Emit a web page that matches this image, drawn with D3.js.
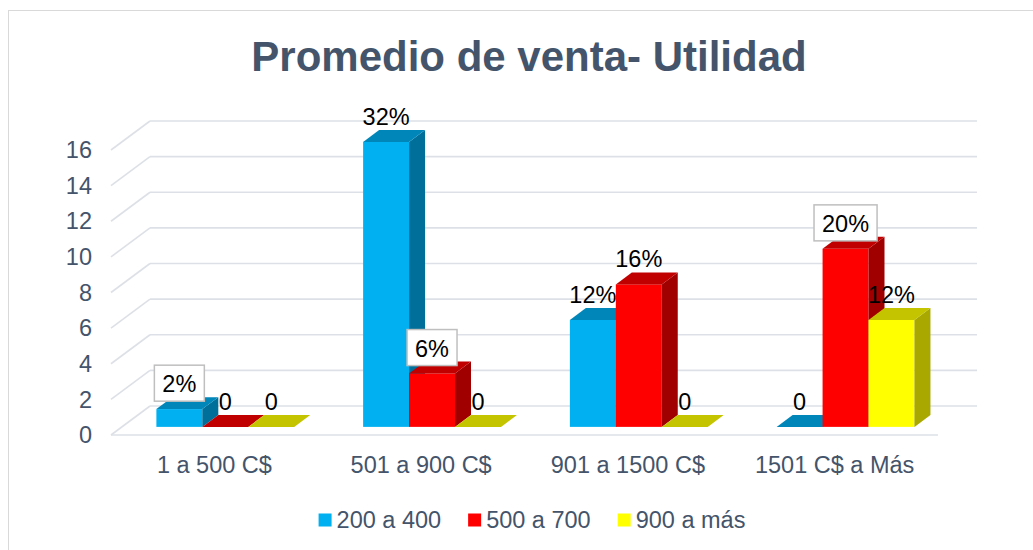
<!DOCTYPE html>
<html>
<head>
<meta charset="utf-8">
<script src="https://cdn.jsdelivr.net/npm/d3@7"></script>
<style>
  body { margin: 0; background: #fff; }
  text { font-family: "Liberation Sans", Arial, sans-serif; }
</style>
</head>
<body>
<script>
var categories = ["1 a 500 C$", "501 a 900 C$", "901 a 1500 C$", "1501 C$ a Más"]
var seriesNames = ["200 a 400", "500 a 700", "900 a más"]
var serie200 = [1, 16, 6, 0]
var serie500 = [0, 3, 8, 10]
var serie900 = [0, 0, 0, 6]
var labels200 = ["2%", "32%", "12%", "0"]
var labels500 = ["0", "6%", "16%", "20%"]
var labels900 = ["0", "0", "0", "12%"]
var boxedLabels = ["2%", "6%", "20%"]
var yTicks = [0, 2, 4, 6, 8, 10, 12, 14, 16]

var colors = [
  {front: "#00B0F0", top: "#0086B8", side: "#006F9A"},
  {front: "#FF0000", top: "#C00000", side: "#A00000"},
  {front: "#FFFF00", top: "#C4C400", side: "#A8A800"}
]

var width = 1033, height = 550
var x0 = 111, floorY = 435, plotW = 827
var depthX = 39, depthY = -29   // full depth of the floor
var f1 = 0.28, f2 = 0.69        // bar front / back depth fractions
var fs = 23.5

var svg = d3.select("body").append("svg")
    .attr("width", width)
    .attr("height", height)

svg.append("rect")
    .attr("x", 8.5).attr("y", 10.5)
    .attr("width", 1100).attr("height", 600)
    .attr("fill", "#fff")
    .attr("stroke", "#D9D9D9")

svg.append("text")
    .attr("x", 529).attr("y", 71)
    .attr("text-anchor", "middle")
    .attr("font-size", 42).attr("font-weight", "bold")
    .attr("fill", "#44546A")
    .text("Promedio de venta- Utilidad")

var y = d3.scaleLinear().domain([0, 16]).range([floorY, 150])

var x = d3.scaleBand().domain(categories).range([0, plotW])
    .paddingInner(1 / 3).paddingOuter(1 / 6)

var xs = d3.scaleBand().domain(d3.range(3)).range([0, x.bandwidth()])

// back wall gridlines with left side wall
var grid = svg.append("g")
    .attr("stroke", "#DDE1E7").attr("stroke-width", 1.6).attr("fill", "none")
yTicks.forEach(function(v) {
  grid.append("line")
      .attr("x1", x0 + depthX).attr("y1", y(v) + depthY)
      .attr("x2", x0 + depthX + plotW).attr("y2", y(v) + depthY)
  grid.append("line")
      .attr("x1", x0).attr("y1", y(v))
      .attr("x2", x0 + depthX).attr("y2", y(v) + depthY)
})
grid.append("line")
    .attr("x1", x0).attr("y1", floorY)
    .attr("x2", x0 + plotW).attr("y2", floorY)

// y tick labels
svg.append("g").selectAll("text")
    .data(yTicks)
  .enter().append("text")
    .attr("x", 92).attr("y", function(d) { return y(d); })
    .attr("dy", "0.35em")
    .attr("text-anchor", "end")
    .attr("font-size", fs).attr("fill", "#44546A")
    .text(function(d) { return d; })

// category labels
svg.append("g").selectAll("text")
    .data(categories)
  .enter().append("text")
    .attr("x", function(d) { return x0 + x(d) + x.bandwidth() / 2; })
    .attr("y", 465).attr("dy", "0.35em")
    .attr("text-anchor", "middle")
    .attr("font-size", fs).attr("fill", "#44546A")
    .text(function(d) { return d; })

var seriesValues = [serie200, serie500, serie900]
var seriesLabels = [labels200, labels500, labels900]

var bars = []
categories.forEach(function(c, ci) {
  seriesValues.forEach(function(vals, si) {
    bars.push({cat: c, s: si, v: vals[ci], label: seriesLabels[si][ci]})
  })
})

var ddx = depthX * (f2 - f1), ddy = depthY * (f2 - f1)

function pts(arr) { return arr.map(function(p) { return p.join(","); }).join(" "); }

var bar = svg.append("g").selectAll("g")
    .data(bars)
  .enter().append("g")

bar.each(function(d) {
  var g = d3.select(this)
  var left = x0 + depthX * f1 + x(d.cat) + xs(d.s)
  var right = left + xs.bandwidth()
  var base = y(0) + depthY * f1
  var top = y(d.v) + depthY * f1
  var col = colors[d.s]
  if (d.v > 0) {
    g.append("rect")
        .attr("x", left).attr("y", top)
        .attr("width", right - left).attr("height", base - top)
        .attr("fill", col.front)
    g.append("polygon")
        .attr("points", pts([[right, top], [right + ddx, top + ddy], [right + ddx, base + ddy], [right, base]]))
        .attr("fill", col.side)
  }
  g.append("polygon")
      .attr("points", pts([[left, top], [left + ddx, top + ddy], [right + ddx, top + ddy], [right, top]]))
      .attr("fill", col.top)

  var tx = (left + right) / 2
  var ty = top + ddy - 5
  var boxed = boxedLabels.indexOf(d.label) >= 0
  var t = g.append("text")
      .attr("x", tx).attr("y", ty)
      .attr("text-anchor", "middle")
      .attr("font-size", fs).attr("fill", "#000")
      .text(d.label)
  if (boxed) {
    var w = t.node().getComputedTextLength() + 16
    g.insert("rect", "text")
        .attr("x", tx - w / 2).attr("y", ty - 27)
        .attr("width", w).attr("height", 36)
        .attr("fill", "#fff").attr("stroke", "#BFBFBF").attr("stroke-width", 1.5)
  }
})

// legend
var legend = svg.append("g")
var lx = 0
seriesNames.forEach(function(name, i) {
  var item = legend.append("g").attr("transform", "translate(" + lx + ",0)")
  item.append("rect")
      .attr("x", 0).attr("y", -6.5)
      .attr("width", 13).attr("height", 13)
      .attr("fill", colors[i].front)
  var t = item.append("text")
      .attr("x", 18).attr("y", 0).attr("dy", "0.35em")
      .attr("font-size", fs).attr("fill", "#44546A")
      .text(name)
  lx += 18 + t.node().getComputedTextLength() + 27
})
lx -= 27
legend.attr("transform", "translate(" + (532 - lx / 2) + ",520)")
</script>
</body>
</html>
